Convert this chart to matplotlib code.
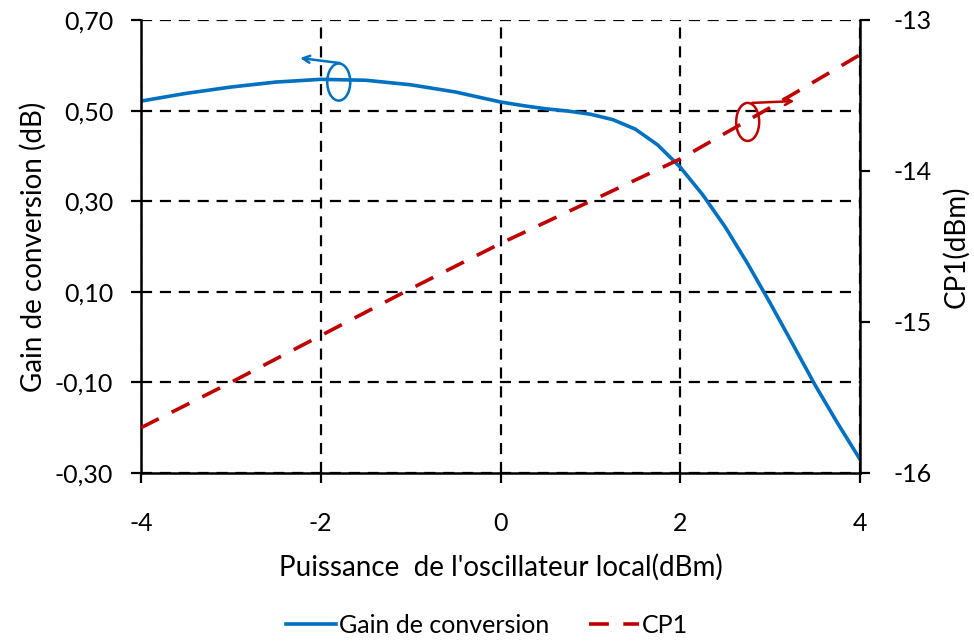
import numpy as np
import matplotlib.pyplot as plt
from matplotlib.patches import Ellipse
from matplotlib.ticker import FuncFormatter

plt.rcParams['font.family'] = ['Lato', 'DejaVu Sans']
plt.rcParams['axes.unicode_minus'] = False

# puissance OL (dBm)
p_ol = [-4, -3.5, -3, -2.5, -2, -1.5, -1, -0.5, 0, 0.25, 0.5, 0.75, 1, 1.25, 1.5, 1.75,
        2, 2.25, 2.5, 2.75, 3, 3.25, 3.5, 3.75, 4]
gain = [0.521, 0.538, 0.552, 0.563, 0.569, 0.567, 0.557, 0.541, 0.519, 0.511, 0.504, 0.499,
        0.492, 0.480, 0.459, 0.424, 0.375, 0.314, 0.243, 0.162, 0.075, -0.015, -0.106,
        -0.190, -0.27]

p_cp1 = [-4, -3, -2, -1, 0, 1, 2, 3, 4]
cp1 = [-15.70, -15.40, -15.09, -14.78, -14.48, -14.20, -13.92, -13.58, -13.23]

bleu = '#0070C0'
rouge = '#C00000'
fs = 18

fig = plt.figure(figsize=(9.74, 6.41), dpi=100)
ax = fig.add_axes([0.1448, 0.2621, 0.7382, 0.7067])
ax2 = ax.twinx()

l1, = ax.plot(p_ol, gain, color=bleu, lw=2.6, label='Gain de conversion')
l2, = ax2.plot(p_cp1, cp1, color=rouge, lw=2.6, ls=(0, (5.5, 4)), label='CP1')

ax.set_xlim(-4, 4)
ax.set_ylim(-0.30, 0.70)
ax2.set_ylim(-16, -13)
ax.set_xticks([-4, -2, 0, 2, 4])
ax.set_yticks(np.arange(-0.30, 0.71, 0.20))
ax2.set_yticks([-16, -15, -14, -13])
ax.yaxis.set_major_formatter(FuncFormatter(lambda v, p: ('%.2f' % v).replace('.', ',')))

ax.grid(True, color='black', ls=(0, (5, 3.5)), lw=1.6)
ax.set_axisbelow(True)
ax.spines['top'].set_visible(False)
ax2.spines['top'].set_visible(False)
for s in ['left', 'bottom']:
    ax.spines[s].set_linewidth(1.8)
ax2.spines['right'].set_linewidth(1.8)
ax.spines['right'].set_visible(False)
ax2.spines['left'].set_visible(False)
ax2.spines['bottom'].set_visible(False)

ax.tick_params(axis='y', direction='out', length=7, width=1.6, pad=13, labelsize=fs)
ax.tick_params(axis='x', direction='out', length=7, width=1.6, pad=21, labelsize=fs)
ax2.tick_params(axis='y', direction='out', length=7, width=1.6, pad=17, labelsize=fs)

ax.set_xlabel("Puissance  de l'oscillateur local(dBm)", fontsize=20, labelpad=14)
ax.set_ylabel('Gain de conversion (dB)', fontsize=20, labelpad=6)
ax2.set_ylabel('CP1(dBm)', fontsize=20, labelpad=8)

# ellipses et fleches
ax.add_patch(Ellipse((-1.80, 0.563), 0.256, 0.082, fill=False, ec=bleu, lw=1.8, zorder=5))
ax.annotate('', xy=(-2.23, 0.616), xytext=(-1.79, 0.605),
            arrowprops=dict(arrowstyle='->,head_length=0.5,head_width=0.25', color=bleu,
                            lw=1.8, shrinkA=0, shrinkB=0), zorder=5)
ax.add_patch(Ellipse((2.75, 0.475), 0.256, 0.084, fill=False, ec=rouge, lw=1.8, zorder=5))
ax.annotate('', xy=(3.27, 0.521), xytext=(2.80, 0.517),
            arrowprops=dict(arrowstyle='->,head_length=0.5,head_width=0.25', color=rouge,
                            lw=1.8, shrinkA=0, shrinkB=0), zorder=5)

fig.legend(handles=[l1, l2], loc='center', bbox_to_anchor=(0.5, 0.024), ncol=2,
           frameon=False, fontsize=18, handlelength=2.0, handletextpad=0.1, columnspacing=1.6)

fig.savefig('out.png', dpi=100)
